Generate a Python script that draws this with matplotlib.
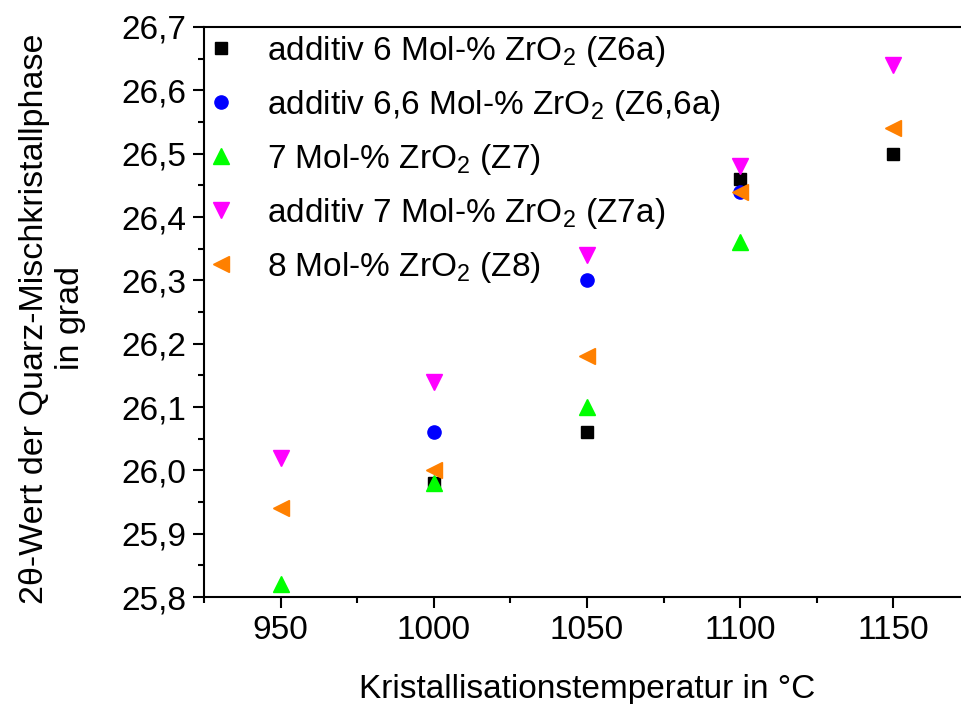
import matplotlib
matplotlib.use("Agg")
import matplotlib.pyplot as plt
from matplotlib.ticker import MultipleLocator, FuncFormatter

plt.rcParams['font.family'] = ['Liberation Sans', 'DejaVu Sans']
plt.rcParams['mathtext.fontset'] = 'custom'
plt.rcParams['mathtext.rm'] = 'Liberation Sans'

x_z6a = [1000, 1050, 1100, 1150]
y_z6a = [25.98, 26.06, 26.46, 26.50]
x_z66a = [1000, 1050, 1100]
y_z66a = [26.06, 26.30, 26.44]
x_z7 = [950, 1000, 1050, 1100]
y_z7 = [25.82, 25.98, 26.10, 26.36]
x_z7a = [950, 1000, 1050, 1100, 1150]
y_z7a = [26.02, 26.14, 26.34, 26.48, 26.64]
x_z8 = [950, 1000, 1050, 1100, 1150]
y_z8 = [25.94, 26.00, 26.18, 26.44, 26.54]

labels = ["additiv 6 Mol-% ZrO$_2$ (Z6a)",
          "additiv 6,6 Mol-% ZrO$_2$ (Z6,6a)",
          "7 Mol-% ZrO$_2$ (Z7)",
          "additiv 7 Mol-% ZrO$_2$ (Z7a)",
          "8 Mol-% ZrO$_2$ (Z8)"]

FS = 24

fig = plt.figure(figsize=(9.61, 7.04), dpi=100)
ax = fig.add_axes([204/961, 1-597/704, (970-204)/961, (597-27)/704])

ax.plot(x_z6a, y_z6a, 's', color='black', ms=8.5, ls='none', label=labels[0])
ax.plot(x_z66a, y_z66a, 'o', color='#0000FF', ms=9.5, ls='none', label=labels[1])
ax.plot(x_z7, y_z7, '^', color='#00FF00', ms=11.5, ls='none', label=labels[2])
ax.plot(x_z7a, y_z7a, 'v', color='#FF00FF', ms=11, ls='none', label=labels[3])
ax.plot(x_z8, y_z8, '<', color='#FF8000', ms=11, ls='none', label=labels[4])

ax.set_xlim(925, 1175)
ax.set_ylim(25.8, 26.7)
ax.xaxis.set_major_locator(MultipleLocator(50))
ax.xaxis.set_minor_locator(MultipleLocator(25))
ax.yaxis.set_major_locator(MultipleLocator(0.1))
ax.yaxis.set_minor_locator(MultipleLocator(0.05))
ax.yaxis.set_major_formatter(FuncFormatter(lambda v, p: f"{v:.1f}".replace('.', ',')))

for s in ax.spines.values():
    s.set_linewidth(1.5)
ax.spines['right'].set_visible(False)

ax.tick_params(which='major', direction='out', length=8, width=1.5, labelsize=FS, pad=5)
ax.tick_params(which='minor', direction='out', length=4, width=1.5)
ax.tick_params(top=False, right=False, which='both')

ax.set_xlabel("Kristallisationstemperatur in °C", fontsize=FS, labelpad=20)
ax.set_ylabel("2θ-Wert der Quarz-Mischkristallphase\nin grad", fontsize=24.5,
              linespacing=1.2)
ax.yaxis.set_label_coords(-0.154, 0.489)

leg = ax.legend(loc='upper left', frameon=False, fontsize=FS, handletextpad=1.1,
                labelspacing=0.57, borderaxespad=0.0, borderpad=0.2, handlelength=0.6,
                bbox_to_anchor=(0.0, 1.0))

fig.savefig("out.png", dpi=100)
